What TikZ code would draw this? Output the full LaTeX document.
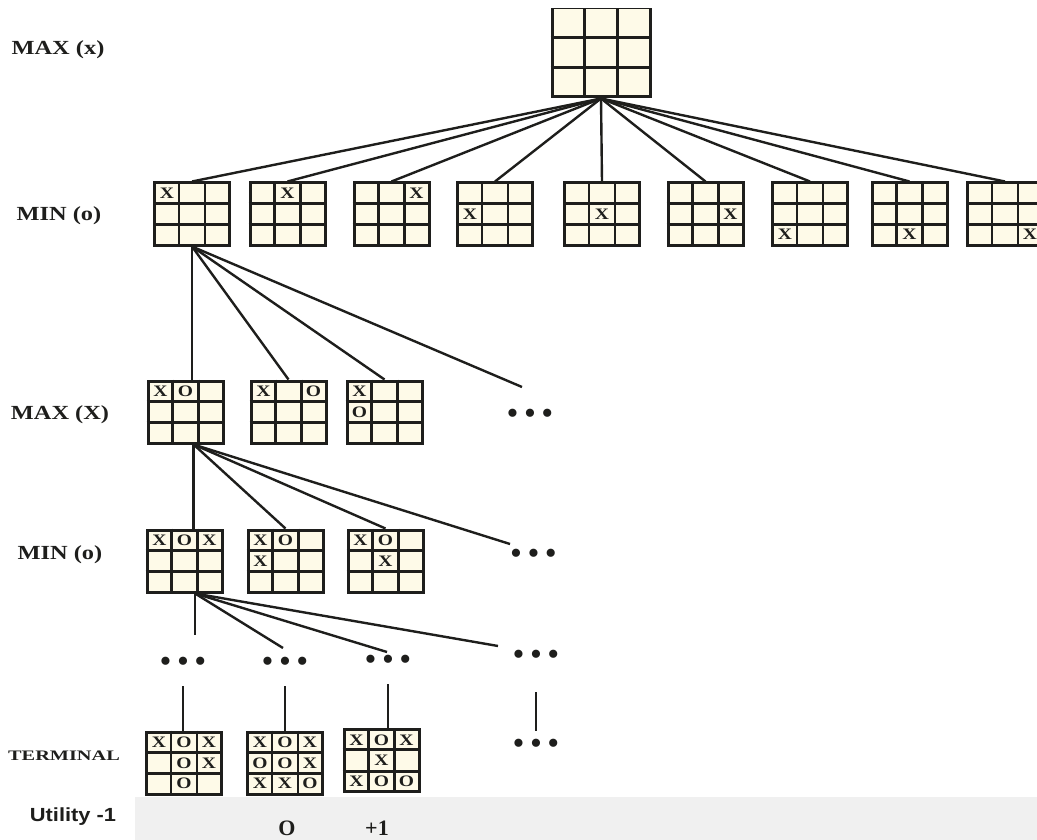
\documentclass[tikz,border=0pt]{standalone}
\usepackage{fontspec}
\setmainfont{Liberation Serif}
\newfontfamily\lvlfont[FakeStretch=1.22]{Liberation Serif}
\newfontfamily\termfont[FakeStretch=1.4]{Liberation Serif}
\newfontfamily\utilfont[FakeStretch=1.15]{Liberation Sans}
\usetikzlibrary{positioning, calc}
\definecolor{boardcream}{RGB}{254, 250, 232}
\definecolor{inkdark}{RGB}{30, 30, 28}
\definecolor{bandgray}{RGB}{240, 240, 240}

\tikzset{
  board/.style={draw=inkdark, fill=boardcream, line width=3pt, minimum width=75pt, minimum height=62pt, inner sep=0pt},
  gridline/.style={draw=inkdark, line width=2.8pt},
  xo/.style={font=\lvlfont\bfseries\fontsize{16}{16}\selectfont, text=inkdark, inner sep=0pt},
  edge/.style={draw=inkdark, line width=2.4pt},
  more/.style={font=\fontsize{34}{34}\selectfont, text=inkdark, inner sep=0pt, minimum height=42pt},
  level/.style={font=\lvlfont\bfseries\fontsize{20}{20}\selectfont, text=inkdark, inner sep=0pt},
}

% board: [size], name, centre, marks as col/row/letter
\newcommand\tttboard[4][]{%
  \node[board, #1] (#2) at (#3) {};
  \foreach \k in {1,2} {
    \draw[gridline] ($(#2.north west)!{\k/3}!(#2.north east)$) -- ($(#2.south west)!{\k/3}!(#2.south east)$);
    \draw[gridline] ($(#2.north west)!{\k/3}!(#2.south west)$) -- ($(#2.north east)!{\k/3}!(#2.south east)$);
  }
  \foreach \cc/\rr/\mm in {#4}
    \node[xo] at ($(#2)+({(\cc-2)*25},{(\rr-2)*20.7})$) {\mm};
}
\newcommand\moredots{\textbullet\hspace{5.5pt}\textbullet\hspace{5.5pt}\textbullet}

\begin{document}
\begin{tikzpicture}[x=1pt, y=-1pt]
  \useasboundingbox (0,0) rectangle (1037,840);
  \fill[bandgray] (135,797) rectangle (1037,840);

  % levels
  \node[level] (maxtop) at (58,50) {MAX (x)};
  \node[level] (mintop) at (59,216) {MIN (o)};
  \node[level] (maxmid) at (60,415) {MAX (X)};
  \node[level] (minmid) at (60,555) {MIN (o)};
  \node[font=\termfont\bfseries\fontsize{14.5}{14.5}\selectfont, text=inkdark, inner sep=0pt] (term) at (64,756) {TERMINAL};
  \node[font=\utilfont\bfseries\fontsize{19}{19}\selectfont, text=inkdark, inner sep=0pt] (util) at (73,817) {Utility -1};

  % root, top edge cut off
  \begin{scope}
    \clip (0,8.6) rectangle (1037,840);
    \tttboard[minimum width=98pt, minimum height=89pt]{root}{601,52.5}{2/2/{}}
  \end{scope}

  % first move of x
  \foreach \i/\bx/\bc/\br in {1/192/1/1, 2/287.5/2/1, 3/391.5/3/1, 4/495/1/2, 5/602/2/2,
                             6/705.5/3/2, 7/810/1/3, 8/909.5/2/3, 9/1005/3/3} {
    \tttboard{m\i}{\bx,214}{\bc/\br/X}
    \draw[edge] (root.south) -- (m\i.north);
  }

  % reply of o
  \tttboard{xA}{185.5,412}{1/1/X, 2/1/O}
  \tttboard{xB}{288.5,412}{1/1/X, 3/1/O}
  \tttboard{xC}{384.5,412}{1/1/X, 1/2/O}
  \node[more] (xmore) at (530,417) {\moredots};
  \coordinate (xtip) at (522,387);
  \draw[edge] (m1.south) -- (m1.south |- xA.north);
  \draw[edge] (m1.south) -- (xB.north);
  \draw[edge] (m1.south) -- (xC.north);
  \draw[edge] (m1.south) -- (xtip);

  % second move of x
  \tttboard{oA}{184.5,561}{1/1/X, 2/1/O, 3/1/X}
  \tttboard{oB}{285.5,561}{1/1/X, 2/1/O, 1/2/X}
  \tttboard{oC}{385.5,561}{1/1/X, 2/1/O, 2/2/X}
  \node[more] (omore) at (533.5,557) {\moredots};
  \coordinate (otip) at (510,544);
  \draw[edge] (xA.-76) -- (xA.-76 |- oA.north);
  \draw[edge] (xA.-76) -- (oB.north);
  \draw[edge] (xA.-76) -- (oC.north);
  \draw[edge] (xA.-76) -- (otip);

  % deeper
  \node[more] (d1) at (183,665) {\moredots};
  \node[more] (d2) at (285,665) {\moredots};
  \node[more] (d3) at (388,663) {\moredots};
  \node[more] (d4) at (536,658) {\moredots};
  \node[more] (dend) at (536,747) {\moredots};
  \coordinate (d1tip) at (194,635);
  \coordinate (d2tip) at (283,648);
  \coordinate (d3tip) at (387,652);
  \coordinate (d4tip) at (498,646);
  \draw[edge] (oA.-72) -- (oA.-72 |- d1tip);
  \draw[edge] (oA.-72) -- (d2tip);
  \draw[edge] (oA.-72) -- (d3tip);
  \draw[edge] (oA.-72) -- (d4tip);

  % terminal states
  \tttboard{tA}{184,763}{1/1/X, 2/1/O, 3/1/X, 2/2/O, 3/2/X, 2/3/O}
  \tttboard{tB}{285,763}{1/1/X, 2/1/O, 3/1/X, 1/2/O, 2/2/O, 3/2/X, 1/3/X, 2/3/X, 3/3/O}
  \tttboard{tC}{381.5,760.5}{1/1/X, 2/1/O, 3/1/X, 2/2/X, 1/3/X, 2/3/O, 3/3/O}
  \draw[edge] (d1.south) -- (d1.south |- tA.north);
  \draw[edge] (d2.south) -- (d2.south |- tB.north);
  \draw[edge] (d3.south) -- (d3.south |- tC.north);
  \draw[edge, shorten <=13pt, shorten >=-5pt] (d4.south) -- (dend.north);

  % utilities
  \node[font=\bfseries\fontsize{22}{22}\selectfont, text=inkdark, inner sep=0pt] (udraw) at (287,828) {O};
  \node[font=\bfseries\fontsize{22}{22}\selectfont, text=inkdark, inner sep=0pt] (uwin) at (377,828) {+1};
\end{tikzpicture}
\end{document}
